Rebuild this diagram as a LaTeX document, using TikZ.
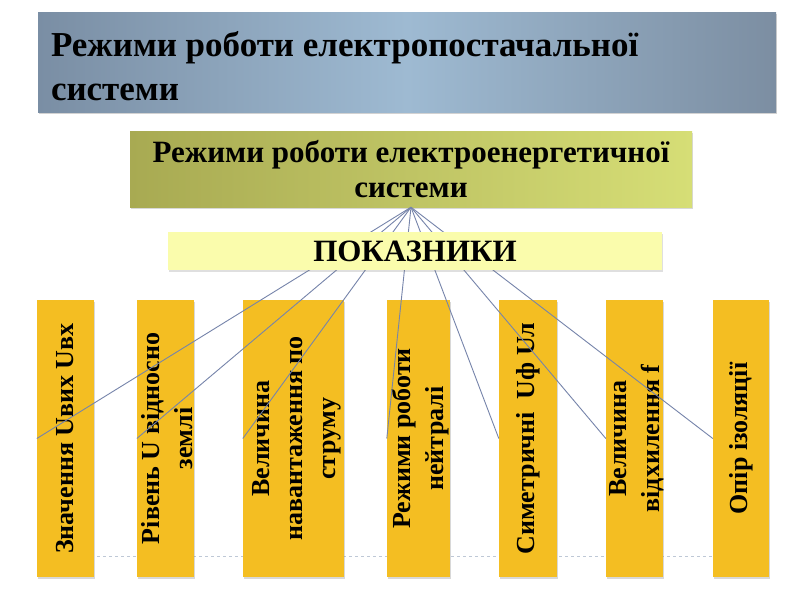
\documentclass[tikz,border=0pt]{standalone}
\usepackage{fontspec}
\setmainfont{Liberation Serif}
\usetikzlibrary{shadows}
\definecolor{colyel}{RGB}{244,190,34}
\definecolor{tleft}{RGB}{122,142,164}
\definecolor{tmid}{RGB}{158,186,210}
\definecolor{tright}{RGB}{124,142,162}
\definecolor{oleft}{RGB}{168,170,82}
\definecolor{oright}{RGB}{214,222,118}
\definecolor{lyel}{RGB}{250,252,172}
\definecolor{conncol}{RGB}{118,132,170}
\definecolor{dashcol}{RGB}{190,200,214}
\tikzset{
  colbox/.style={rectangle, fill=colyel, inner sep=0pt, minimum height=277pt,
    drop shadow={shadow xshift=1pt, shadow yshift=-2pt, opacity=0.3}},
  coltext/.style={rotate=90, align=center, inner sep=0pt,
    font=\fontsize{26}{33}\selectfont\bfseries},
  conn/.style={draw=conncol, line width=0.9pt},
  dashline/.style={draw=dashcol, dashed, line width=0.8pt},
}
\begin{document}
\begin{tikzpicture}[x=1pt,y=-1pt]
\useasboundingbox (0,0) rectangle (800,600);
\fill[white] (0,0) rectangle (800,600);

% dashed guide line
\coordinate (dl) at (37,556);
\coordinate (dr) at (768,556);
\draw[dashline] (dl) -- (dr);

% columns
\node[colbox, minimum width=57pt]  (c1) at (65.5,438.5) {};
\node[colbox, minimum width=57pt]  (c2) at (165.5,438.5) {};
\node[colbox, minimum width=101pt] (c3) at (293.5,438.5) {};
\node[colbox, minimum width=63pt]  (c4) at (418.5,438.5) {};
\node[colbox, minimum width=58pt]  (c5) at (528,438.5) {};
\node[colbox, minimum width=57pt]  (c6) at (634.5,438.5) {};
\node[colbox, minimum width=56pt]  (c7) at (741,438.5) {};

\node[coltext] (t1) at (c1) {Значення Uвих Uвх};
\node[coltext] (t2) at ([xshift=2pt]c2) {Рівень U відносно\\землі};
\node[coltext] (t3) at ([xshift=3pt]c3) {Величина\\навантаження по\\струму};
\node[coltext] (t4) at ([xshift=2pt]c4) {Режими роботи\\нейтралі};
\node[coltext] (t5) at (c5) {Симетричні~~Uф Uл};
\node[coltext] (t6) at ([xshift=2pt]c6) {Величина\\відхилення f};
\node[coltext] (t7) at (c7) {Опір ізоляції};

% box 2
\node[rectangle, minimum width=562pt, minimum height=76pt, inner sep=0pt,
  left color=oleft, right color=oright, align=center,
  font=\fontsize{31}{35}\selectfont\bfseries,
  drop shadow={shadow xshift=1pt, shadow yshift=-2pt, opacity=0.3}]
  (b2) at (411,169) {Режими роботи електроенергетичної\\системи};

% connectors
\foreach \c in {c1,c2,c3,c4,c5,c6,c7}
  \draw[conn] (b2.south) -- (\c.west);

% box 3
\node[rectangle, minimum width=494pt, minimum height=38pt, inner sep=0pt,
  fill=lyel, font=\fontsize{31}{35}\selectfont\bfseries,
  drop shadow={shadow xshift=1pt, shadow yshift=-2pt, opacity=0.25}]
  (b3) at (415,251) {ПОКАЗНИКИ};

% title
\node[rectangle, minimum width=738pt, minimum height=100pt, inner sep=0pt,
  left color=tleft, right color=tright, middle color=tmid,
  drop shadow={shadow xshift=1pt, shadow yshift=-2pt, opacity=0.35}]
  (title) at (407,62) {};
\node[anchor=west, align=left, inner sep=0pt,
  font=\fontsize{35}{44}\selectfont\bfseries]
  (tt) at ([xshift=13pt, yshift=-4pt]title.west)
  {Режими роботи електропостачальної\\системи};
\end{tikzpicture}
\end{document}
